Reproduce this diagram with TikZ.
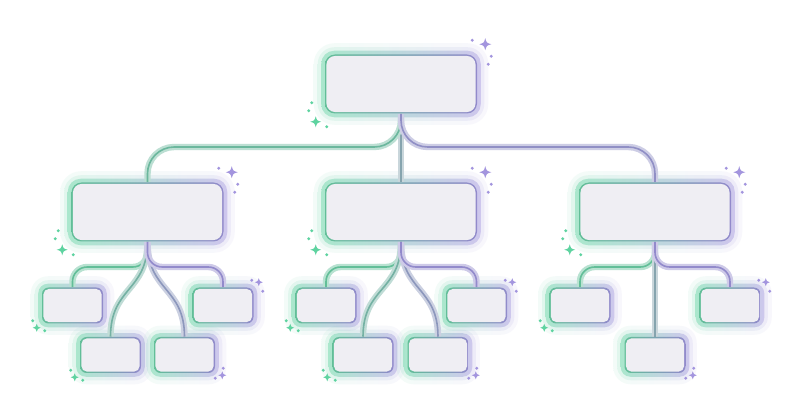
\documentclass[tikz,border=0pt]{standalone}
\usepackage{tikz}
\usetikzlibrary{backgrounds}

\definecolor{mint}{HTML}{5ED3A0}
\definecolor{lilac}{HTML}{A395DE}
\definecolor{mintdark}{HTML}{62BE98}
\definecolor{lilacdark}{HTML}{928ACB}
\definecolor{slate}{HTML}{86A4AE}
\definecolor{cardfill}{HTML}{EFEEF3}

\tikzset{
  cardbase/.style={rectangle, inner sep=0pt, draw=none,
    left color=mintdark, right color=lilacdark},
  bigcard/.style={cardbase, minimum width=114pt, minimum height=44.25pt,
    rounded corners=7.5pt,
    path picture={\fill[cardfill, rounded corners=6.5pt]
      ([shift={(1.1pt,1.1pt)}]path picture bounding box.south west) rectangle
      ([shift={(-1.1pt,-1.1pt)}]path picture bounding box.north east);}},
  leafcard/.style={cardbase, minimum width=45.75pt, minimum height=27pt,
    rounded corners=5pt,
    path picture={\fill[cardfill, rounded corners=4pt]
      ([shift={(1.1pt,1.1pt)}]path picture bounding box.south west) rectangle
      ([shift={(-1.1pt,-1.1pt)}]path picture bounding box.north east);}},
  link/.style={draw=#1, line width=1.2pt, rounded corners=11pt,
    preaction={draw=#1!45, line width=4.8pt}}
}

\newcommand{\halo}[2]{%
  \pgfmathsetmacro\haloA{#2+8}%
  \pgfmathsetmacro\haloB{#2+5}%
  \pgfmathsetmacro\haloC{#2+2.2}%
  \shade[left color=mint, right color=lilac, opacity=.07, rounded corners=\haloA pt]
    ([shift={(-11,11)}]#1.south west) rectangle ([shift={(11,-11)}]#1.north east);
  \shade[left color=mint, right color=lilac, opacity=.12, rounded corners=\haloB pt]
    ([shift={(-7,7)}]#1.south west) rectangle ([shift={(7,-7)}]#1.north east);
  \shade[left color=mint!75, right color=lilac!75, opacity=.6, rounded corners=\haloC pt]
    ([shift={(-3.5,3.5)}]#1.south west) rectangle ([shift={(3.5,-3.5)}]#1.north east);}

\newcommand{\glint}[4]{%
  \begin{scope}[shift={(#2)}, shift={(#3)}]
    \fill[#1] (0,-#4) .. controls (0.22*#4,-0.22*#4) .. (#4,0)
      .. controls (0.22*#4,0.22*#4) .. (0,#4)
      .. controls (-0.22*#4,0.22*#4) .. (-#4,0)
      .. controls (-0.22*#4,-0.22*#4) .. cycle;
  \end{scope}}
\newcommand{\speck}[3]{\fill[#1] ([shift={(#3)}]#2) circle (1.2pt);}

\newcommand{\bigsparkles}[1]{%
  \glint{lilac}{#1.north east}{8,-10}{6}
  \speck{lilac}{#1.north east}{-5,-14}
  \speck{lilac}{#1.north east}{14,2}
  \speck{lilac}{#1.north east}{11,10}
  \glint{mint}{#1.south west}{-9,8}{5.5}
  \speck{mint}{#1.south west}{-13,-11}
  \speck{mint}{#1.south west}{-16,-3}
  \speck{mint}{#1.south west}{2,13}}
\newcommand{\sparkSW}[1]{%
  \glint{mint}{#1.south west}{-5,4}{4}
  \speck{mint}{#1.south west}{-9,-3}
  \speck{mint}{#1.south west}{3,7}}
\newcommand{\sparkNE}[1]{%
  \glint{lilac}{#1.north east}{5,-5}{4}
  \speck{lilac}{#1.north east}{-2,-7}
  \speck{lilac}{#1.north east}{9,4}}
\newcommand{\sparkSE}[1]{%
  \glint{lilac}{#1.south east}{7,2}{4}
  \speck{lilac}{#1.south east}{8,-5}
  \speck{lilac}{#1.south east}{0,5}}

\begin{document}
\begin{tikzpicture}[x=0.75pt, y=-0.75pt]
  \useasboundingbox (0,0) rectangle (800,420);

  \node[bigcard] (root) at (401,84) {};
  \node[bigcard] (branchA) at (147.5,212) {};
  \node[bigcard] (branchB) at (401,212) {};
  \node[bigcard] (branchC) at (655,212) {};

  \node[leafcard] (leafA1) at (72.5,305.5) {};
  \node[leafcard] (leafA2) at (110.5,355) {};
  \node[leafcard] (leafA3) at (184.5,355) {};
  \node[leafcard] (leafA4) at (223,305.5) {};

  \node[leafcard] (leafB1) at (326,305.5) {};
  \node[leafcard] (leafB2) at (363,355) {};
  \node[leafcard] (leafB3) at (438,355) {};
  \node[leafcard] (leafB4) at (476.5,305.5) {};

  \node[leafcard] (leafC1) at (580,305.5) {};
  \node[leafcard] (leafC2) at (655,355) {};
  \node[leafcard] (leafC3) at (730,305.5) {};

  \coordinate (rail) at (0,147);
  \coordinate (twig) at (0,267);

  \begin{scope}[on background layer]
    \fill[white] (0,0) rectangle (800,420);
    \foreach \n in {root,branchA,branchB,branchC} {\halo{\n}{7.5}}
    \foreach \n in {leafA1,leafA2,leafA3,leafA4,leafB1,leafB2,leafB3,leafB4,leafC1,leafC2,leafC3} {\halo{\n}{5}}

    \draw[link=slate] (root.south) -- (branchB.north);
    \draw[link=mintdark!75!slate, rounded corners=20pt] (root.south) |- (branchA.north |- rail) -- (branchA.north);
    \draw[link=lilacdark!80!slate, rounded corners=20pt] (root.south) |- (branchC.north |- rail) -- (branchC.north);

    \draw[link=mintdark] (branchA.south) |- (leafA1.north |- twig) -- (leafA1.north);
    \draw[link=mintdark!50!slate] (branchA.south) .. controls +(0,50) and +(0,-50) .. (leafA2.north);
    \draw[link=lilacdark!50!slate] (branchA.south) .. controls +(0,50) and +(0,-50) .. (leafA3.north);
    \draw[link=lilacdark] (branchA.south) |- (leafA4.north |- twig) -- (leafA4.north);

    \draw[link=mintdark] (branchB.south) |- (leafB1.north |- twig) -- (leafB1.north);
    \draw[link=mintdark!50!slate] (branchB.south) .. controls +(0,50) and +(0,-50) .. (leafB2.north);
    \draw[link=lilacdark!50!slate] (branchB.south) .. controls +(0,50) and +(0,-50) .. (leafB3.north);
    \draw[link=lilacdark] (branchB.south) |- (leafB4.north |- twig) -- (leafB4.north);

    \draw[link=mintdark] (branchC.south) |- (leafC1.north |- twig) -- (leafC1.north);
    \draw[link=slate] (branchC.south) -- (leafC2.north);
    \draw[link=lilacdark] (branchC.south) |- (leafC3.north |- twig) -- (leafC3.north);
  \end{scope}

  \bigsparkles{root}
  \bigsparkles{branchA}
  \bigsparkles{branchB}
  \bigsparkles{branchC}

  \sparkSW{leafA1} \sparkSW{leafA2} \sparkSE{leafA3} \sparkNE{leafA4}
  \sparkSW{leafB1} \sparkSW{leafB2} \sparkSE{leafB3} \sparkNE{leafB4}
  \sparkSW{leafC1} \sparkSE{leafC2} \sparkNE{leafC3}
\end{tikzpicture}
\end{document}
